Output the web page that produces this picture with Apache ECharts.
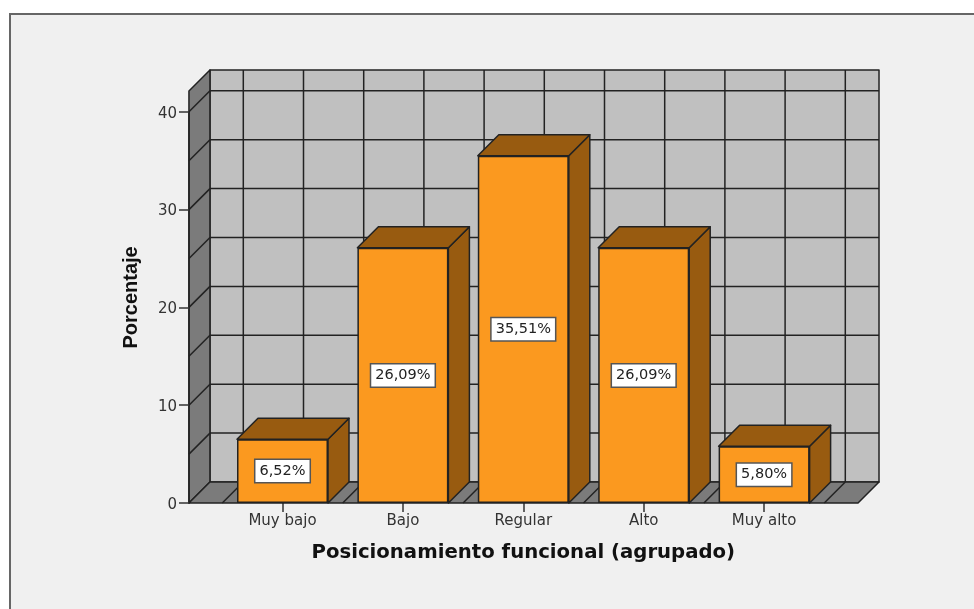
<!DOCTYPE html>
<html><head><meta charset="utf-8">
<style>html,body{margin:0;padding:0;background:#fff}#c{width:974px;height:609px}</style>
<script src="https://cdn.jsdelivr.net/npm/echarts@6/dist/echarts.min.js"></script>
</head><body><div id="c"></div>
<script>
const categories = ['Muy bajo','Bajo','Regular','Alto','Muy alto'];
const percentages = [6.52,26.09,35.51,26.09,5.80];
const labels = ['6,52%','26,09%','35,51%','26,09%','5,80%'];
const yGridValues = [5,10,15,20,25,30,35,40];
const xGridPositions = [-0.5,0,0.5,1,1.5,2,2.5,3,3.5,4,4.5];
const wallLeft = -0.777, wallRight = 4.78, wallTop = 42.13;
const DEPTH = 21;
const LINE = '#222', SIDE = '#7B7B7B', BACK = '#C0C0C0', FRONT = '#FB991F', SHADE = '#985B10';

function poly(points, fill, z2){
  return {type:'polygon',shape:{points},z2:z2||0,style:{fill,stroke:LINE,lineWidth:1.5,lineJoin:'round'}};
}
function seg(a,b,z2){
  return {type:'line',shape:{x1:a[0],y1:a[1],x2:b[0],y2:b[1]},z2:z2||1,style:{stroke:LINE,lineWidth:1.5}};
}
const off = p => [p[0]+DEPTH,p[1]-DEPTH];
function renderWalls(params,api){
  const c = (x,y)=>api.coord([x,y]);
  const fl=c(wallLeft,0), fr=c(wallRight,0), tl=c(wallLeft,wallTop), tr=c(wallRight,wallTop);
  const ch=[
    poly([off(fl),off(fr),off(tr),off(tl)],BACK),
    poly([fl,off(fl),off(tl),tl],SIDE),
    poly([fl,fr,off(fr),off(fl)],SIDE)
  ];
  yGridValues.forEach(v=>{const a=c(wallLeft,v),b=c(wallRight,v);ch.push(seg(a,off(a)),seg(off(a),off(b)));});
  xGridPositions.forEach(x=>{const a=c(x,0),b=c(x,wallTop);ch.push(seg(a,off(a)),seg(off(a),off(b)));});
  return {type:'group',children:ch};
}
function renderBox(params,api){
  const i=api.value(0), v=api.value(1);
  const base=api.coord([i,0]), top=api.coord([i,v]);
  const halfW=45.5;
  const rb=[base[0]+halfW,base[1]];
  const lt=[base[0]-halfW,top[1]], rt=[base[0]+halfW,top[1]];
  return {type:'group',children:[
    poly([rb,off(rb),off(rt),rt],SHADE),
    poly([lt,rt,off(rt),off(lt)],SHADE)
  ]};
}
const axisText={color:'#333',fontFamily:'DejaVu Sans',fontSize:15};
const chart=echarts.init(document.getElementById('c'));
chart.setOption({
  animation:false,
  backgroundColor:'#fff',
  graphic:[{type:'rect',z:-100,shape:{x:10,y:14,width:990,height:620},style:{fill:'#F0F0F0',stroke:'#666',lineWidth:2}}],
  grid:{left:222.3,width:602,top:111.8,height:391.2},
  xAxis:[
    {type:'category',data:categories,
      axisLine:{show:false},
      axisTick:{show:true,alignWithLabel:true,length:9,lineStyle:{color:'#333',width:1.5}},
      axisLabel:{...axisText,margin:11},
      name:'Posicionamiento funcional (agrupado)',nameLocation:'middle',nameGap:40,
      nameTextStyle:{color:'#111',fontFamily:'DejaVu Sans',fontWeight:'bold',fontSize:19.7}},
    {type:'value',show:false,min:-0.5,max:4.5}
  ],
  yAxis:{type:'value',position:'left',z:10,min:0,max:40,interval:10,offset:33.3,
    splitLine:{show:false},
    axisLine:{show:true,onZero:false,lineStyle:{color:LINE,width:1.5}},
    axisTick:{show:true,inside:false,length:10,lineStyle:{color:'#333',width:1.5}},
    axisLabel:{...axisText,margin:12,verticalAlign:'top',lineHeight:4},
    name:'Porcentaje',nameLocation:'middle',nameGap:48,
    nameTextStyle:{color:'#111',fontFamily:'Liberation Sans',fontWeight:'bold',fontSize:20,padding:[0,0,0,20]}},
  series:[
    {type:'custom',name:'walls',xAxisIndex:1,yAxisIndex:0,z:1,silent:true,clip:false,
      data:[[0,0]],renderItem:renderWalls},
    {type:'custom',name:'depth',xAxisIndex:1,yAxisIndex:0,z:2,silent:true,clip:false,
      data:percentages.map((v,i)=>[i,v]),renderItem:renderBox},
    {type:'bar',name:'Porcentaje',xAxisIndex:0,yAxisIndex:0,z:3,barWidth:91,data:percentages,
      itemStyle:{color:FRONT,borderColor:LINE,borderWidth:1.5},
      label:{show:true,position:'inside',formatter:p=>labels[p.dataIndex],color:'#222',
        fontFamily:'DejaVu Sans',fontSize:14.5,backgroundColor:'#fff',borderColor:'#555',borderWidth:1.5,
        padding:[4,4,3,4]}}
  ]
});
</script></body></html>
